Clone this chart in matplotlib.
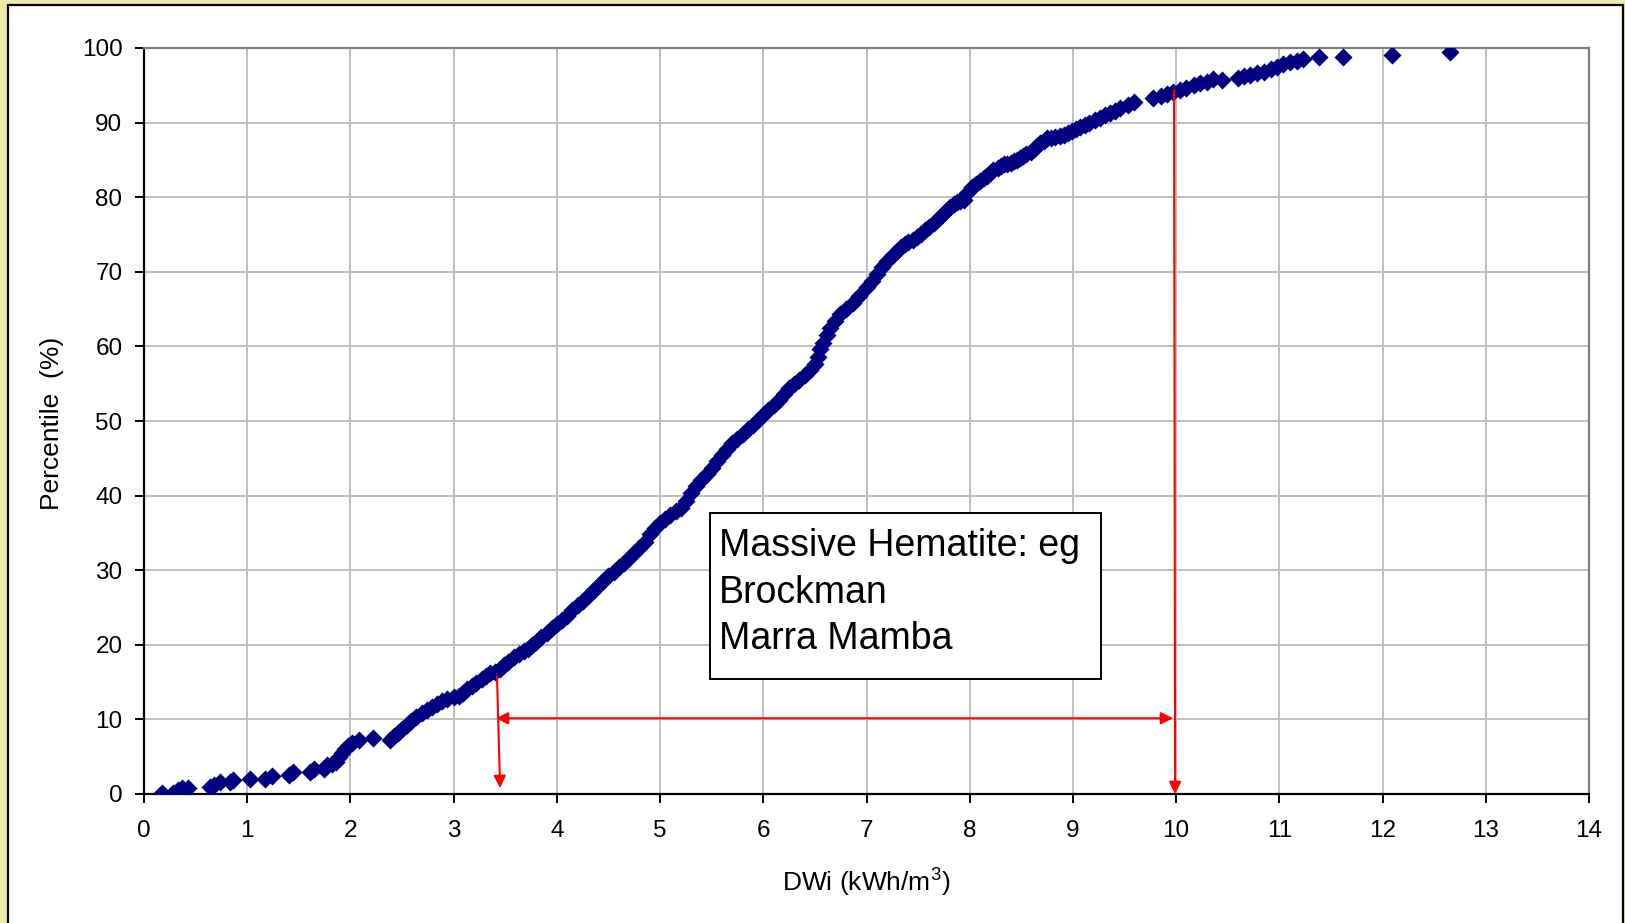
import matplotlib
matplotlib.use("Agg")
import matplotlib.pyplot as plt
from matplotlib.patches import Rectangle

plt.rcParams["font.family"] = ["Liberation Sans", "DejaVu Sans"]
plt.rcParams["mathtext.default"] = "regular"

# DWi test results (kWh/m3) and their cumulative percentile (%)
dwi = [
    0.17, 0.28, 0.33, 0.37, 0.43, 0.64, 0.68, 0.74, 0.83, 0.86, 1.03, 1.17, 1.24,
    1.40, 1.44, 1.61, 1.65, 1.74, 1.77, 1.82, 1.86, 1.89, 1.92, 1.95, 1.98, 2.02,
    2.08, 2.22, 2.38, 2.42, 2.46, 2.50, 2.55, 2.59, 2.64, 2.69, 2.74, 2.79, 2.84,
    2.89, 2.94, 3.00, 3.05, 3.09, 3.13, 3.18, 3.22, 3.27, 3.31, 3.35, 3.40, 3.45,
    3.49, 3.53, 3.58, 3.63, 3.68, 3.72, 3.76, 3.80, 3.85, 3.90, 3.95, 4.00, 4.05,
    4.10, 4.15, 4.20, 4.25, 4.30, 4.35, 4.40, 4.45, 4.50, 4.55, 4.60, 4.65, 4.70,
    4.75, 4.80, 4.85, 4.90, 4.95, 5.00, 5.05, 5.10, 5.15, 5.20, 5.25, 5.30, 5.35,
    5.40, 5.45, 5.50, 5.55, 5.60, 5.65, 5.70, 5.75, 5.80, 5.85, 5.90, 5.95, 6.00,
    6.05, 6.10, 6.15, 6.20, 6.25, 6.30, 6.35, 6.40, 6.45, 6.50, 6.53, 6.55, 6.58,
    6.62, 6.65, 6.69, 6.74, 6.80, 6.87, 6.93, 7.00, 7.05, 7.10, 7.15, 7.20, 7.26,
    7.30, 7.33, 7.37, 7.40, 7.45, 7.49, 7.53, 7.57, 7.61, 7.65, 7.69, 7.73, 7.77,
    7.81, 7.85, 7.88, 7.91, 7.94, 7.97, 8.02, 8.06, 8.10, 8.14, 8.17, 8.20, 8.23,
    8.27, 8.30, 8.33, 8.36, 8.40, 8.43, 8.46, 8.49, 8.52, 8.55, 8.59, 8.62, 8.65,
    8.68, 8.72, 8.75, 8.79, 8.83, 8.87, 8.91, 8.95, 8.99, 9.03, 9.07, 9.12, 9.16,
    9.21, 9.26, 9.31, 9.36, 9.41, 9.46, 9.53, 9.59, 9.78, 9.85, 9.91, 9.97, 10.04,
    10.10, 10.17, 10.23, 10.30, 10.36, 10.44, 10.60, 10.66, 10.72, 10.78, 10.85,
    10.92, 10.98, 11.04, 11.10, 11.17, 11.23, 11.38, 11.62, 12.09, 12.65,
]
percentile = [
    0.2, 0.1, 0.5, 0.8, 0.8, 0.9, 1.2, 1.6, 1.6, 1.9, 2.0, 2.0, 2.4,
    2.5, 2.9, 3.0, 3.4, 3.4, 3.9, 4.0, 4.3, 4.9, 5.5, 6.0, 6.5, 6.9,
    7.3, 7.5, 7.3, 7.8, 8.2, 8.7, 9.2, 9.8, 10.3, 10.8, 11.3, 11.7, 12.1,
    12.5, 12.7, 13.0, 13.2, 13.5, 14.1, 14.5, 14.9, 15.4, 15.8, 16.2, 16.4, 16.7,
    17.3, 17.7, 18.3, 18.8, 19.2, 19.5, 20.0, 20.4, 21.0, 21.6, 22.3, 22.8, 23.3,
    23.8, 24.6, 25.3, 25.9, 26.5, 27.2, 27.9, 28.6, 29.2, 29.8, 30.4, 31.0, 31.6,
    32.3, 33.0, 33.8, 34.8, 35.6, 36.3, 36.9, 37.4, 37.9, 38.4, 39.3, 40.4, 41.3,
    42.1, 42.9, 43.7, 44.6, 45.5, 46.3, 47.0, 47.6, 48.3, 48.9, 49.4, 50.1, 50.8,
    51.5, 52.2, 52.8, 53.6, 54.4, 55.0, 55.5, 56.1, 56.8, 57.6, 58.6, 59.6, 60.5,
    61.5, 62.5, 63.4, 64.3, 65.0, 65.8, 66.8, 67.9, 68.8, 69.7, 70.6, 71.5, 72.2,
    72.8, 73.3, 73.7, 74.0, 74.3, 74.7, 75.1, 75.6, 76.0, 76.5, 77.1, 77.6, 78.2,
    78.7, 79.1, 79.3, 79.5, 79.6, 80.6, 81.4, 81.8, 82.2, 82.6, 82.9, 83.3, 83.6,
    83.9, 84.2, 84.4, 84.5, 84.6, 84.8, 85.0, 85.3, 85.5, 85.8, 86.1, 86.4, 86.8,
    87.2, 87.6, 87.9, 88.0, 88.1, 88.2, 88.3, 88.6, 88.9, 89.1, 89.4, 89.7, 90.0,
    90.3, 90.6, 91.0, 91.3, 91.6, 91.9, 92.3, 92.8, 93.3, 93.6, 93.9, 94.1, 94.4,
    94.7, 95.0, 95.3, 95.5, 95.8, 95.7, 96.0, 96.2, 96.4, 96.6, 96.8,
    97.2, 97.5, 97.8, 98.1, 98.3, 98.5, 98.8, 98.8, 99.1, 99.4,
]

x_ticks = list(range(0, 15))
y_ticks = list(range(0, 101, 10))

# DWi range for massive hematite ores, read at the 10th percentile line
range_low = 3.43
range_high = 9.98
range_level = 10.15
low_start = 15.8
high_start = 94.4

box_lines = ["Massive Hematite: eg", "Brockman", "Marra Mamba"]

fig = plt.figure(figsize=(16.25, 9.23), dpi=100)
fig.patch.set_facecolor("#EEE8AA")
fig.patches.append(Rectangle((8 / 1625, -0.02), (1623 - 8) / 1625, (923 - 5) / 923 + 0.02,
                             transform=fig.transFigure, facecolor="white",
                             edgecolor="black", linewidth=1.6, zorder=-10))

ax = fig.add_axes([144 / 1625, 129 / 923, 1445 / 1625, 746 / 923])
ax.set_facecolor("white")

ax.scatter(dwi, percentile, marker="D", s=85, color="#000080", linewidths=0, zorder=3)

ax.set_xlim(0, 14)
ax.set_ylim(0, 100)
ax.set_xticks(x_ticks)
ax.set_yticks(y_ticks)
ax.grid(True, color="#C0C0C0", linewidth=1.4, zorder=0)
ax.set_axisbelow(True)

for side in ("left", "bottom"):
    ax.spines[side].set_color("black")
    ax.spines[side].set_linewidth(1.6)
for side in ("top", "right"):
    ax.spines[side].set_color("#808080")
    ax.spines[side].set_linewidth(1.6)

ax.tick_params(axis="x", direction="out", length=6.5, width=1.4, pad=12,
               labelsize=17.5, colors="black")
ax.tick_params(axis="y", direction="out", length=6.5, width=1.4, pad=9,
               labelsize=17.5, colors="black")

fig.text(52 / 1625, 1 - 423 / 923, "Percentile  (%)", rotation=90,
         ha="center", va="center", fontsize=19)
fig.text(866 / 1625, 1 - 883 / 923, "DWi (kWh/m$^{3}$)", ha="center", va="center",
         fontsize=19)

# Text box
ax.add_patch(Rectangle((5.48, 15.4), 9.27 - 5.48, 37.7 - 15.4, facecolor="white",
                       edgecolor="black", linewidth=1.4, zorder=4))
ax.text(5.57, 27.0, "\n".join(box_lines), ha="left", va="center", fontsize=27,
        linespacing=1.38, zorder=5)

arrow = dict(arrowstyle="-|>", color="red", lw=1.5, mutation_scale=18,
             shrinkA=0, shrinkB=0)
ax.annotate("", xy=(range_low + 0.02, 0.8), xytext=(range_low - 0.01, low_start),
            arrowprops=arrow, zorder=6)
ax.annotate("", xy=(range_high + 0.01, 0.0), xytext=(range_high, high_start),
            arrowprops=arrow, zorder=6)
ax.annotate("", xy=(range_high - 0.01, range_level), xytext=(range_low - 0.02, range_level),
            arrowprops=dict(arrow, arrowstyle="<|-|>"), zorder=6)

fig.savefig("out.png", dpi=100, facecolor=fig.get_facecolor())
